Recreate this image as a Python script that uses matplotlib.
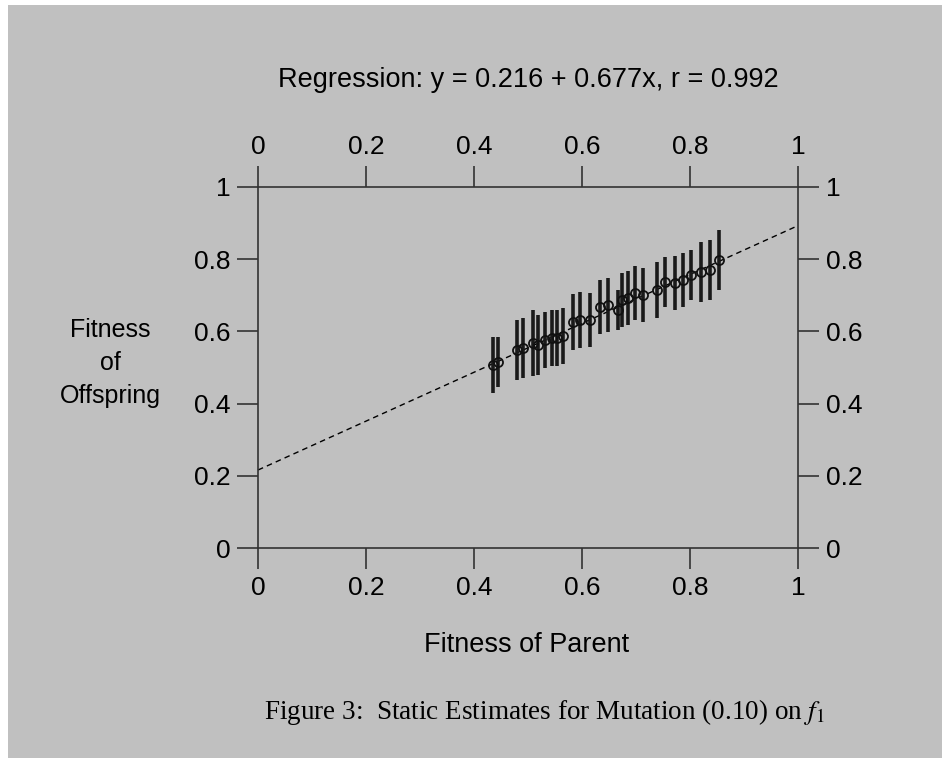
import matplotlib
matplotlib.use("Agg")
import matplotlib.pyplot as plt
from matplotlib.patches import Rectangle
import numpy as np

# Parent fitness, mean offspring fitness and half-width of each estimate
parent_fitness = [0.435, 0.444, 0.480, 0.491, 0.509, 0.519, 0.531, 0.544, 0.554, 0.565,
                  0.583, 0.596, 0.615, 0.633, 0.648, 0.667, 0.674, 0.685, 0.698, 0.713,
                  0.739, 0.754, 0.772, 0.787, 0.802, 0.820, 0.837, 0.854]
offspring_fitness = [0.507, 0.515, 0.548, 0.554, 0.568, 0.562, 0.576, 0.582, 0.582, 0.587,
                     0.626, 0.632, 0.632, 0.668, 0.673, 0.659, 0.687, 0.693, 0.706, 0.701,
                     0.715, 0.737, 0.734, 0.742, 0.756, 0.765, 0.770, 0.798]
offspring_spread = [0.078, 0.069, 0.083, 0.083, 0.091, 0.083, 0.078, 0.078, 0.078, 0.078,
                    0.078, 0.078, 0.075, 0.075, 0.075, 0.055, 0.075, 0.075, 0.075, 0.075,
                    0.078, 0.069, 0.075, 0.075, 0.069, 0.083, 0.083, 0.083]

intercept = 0.216
slope = 0.677
r_value = 0.992

ticks = [0, 0.2, 0.4, 0.6, 0.8, 1]
tick_labels = ["0", "0.2", "0.4", "0.6", "0.8", "1"]

plt.rcParams["font.family"] = ["Liberation Sans", "DejaVu Sans"]
plt.rcParams["mathtext.fontset"] = "stix"

W, H = 942, 758
fig = plt.figure(figsize=(W / 100, H / 100), dpi=100, facecolor="white")
bg = "#c0c0c0"
fig.patches.append(Rectangle((8 / W, 0), 1 - 8 / W, 1 - 5 / H, transform=fig.transFigure,
                             facecolor=bg, edgecolor="none", zorder=-10))

ax = fig.add_axes([258 / W, 1 - 548 / H, (798 - 258) / W, (548 - 187) / H])
ax.set_facecolor(bg)
ax.set_xlim(0, 1)
ax.set_ylim(0, 1)

# regression line
xs = np.array([0.0, 1.0])
ax.plot(xs, intercept + slope * xs, linestyle=(0, (4, 3)), color="black", lw=1.0,
        clip_on=False, zorder=2)

ax.errorbar(parent_fitness, offspring_fitness, yerr=offspring_spread, fmt="none",
            ecolor="#1a1a1a", elinewidth=2.6, capsize=0, zorder=3)
ax.plot(parent_fitness, offspring_fitness, "o", mfc="none", mec="#111111", ms=6.5, mew=1.3,
        zorder=4)

for s in ax.spines.values():
    s.set_linewidth(1.2)
    s.set_color("#333333")

ax.set_xticks(ticks)
ax.set_xticklabels(tick_labels)
ax.set_yticks(ticks)
ax.set_yticklabels(tick_labels)
ax.tick_params(axis="both", which="both", direction="out", length=15, width=1.2,
               color="#333333", labelsize=19, top=True, right=True,
               labeltop=True, labelright=True)
ax.tick_params(axis="y", pad=5)
ax.tick_params(axis="x", pad=5)

fig.text(528 / W, 1 - 80 / H, "Regression: y = 0.216 + 0.677x, r = 0.992",
         ha="center", va="center", fontsize=19.5)
fig.text(527 / W, 1 - 645 / H, "Fitness of Parent", ha="center", va="center", fontsize=19.5)
fig.text(110 / W, 1 - 363 / H, "Fitness\nof\nOffspring", ha="center", va="center",
         fontsize=18, linespacing=1.45)
fig.text(544 / W, 1 - 712 / H, r"Figure 3:  Static Estimates for Mutation (0.10) on $f_1$",
         ha="center", va="center", fontsize=19.5, family=["Liberation Serif", "DejaVu Serif"])

fig.savefig("out.png", dpi=100, facecolor=fig.get_facecolor())
